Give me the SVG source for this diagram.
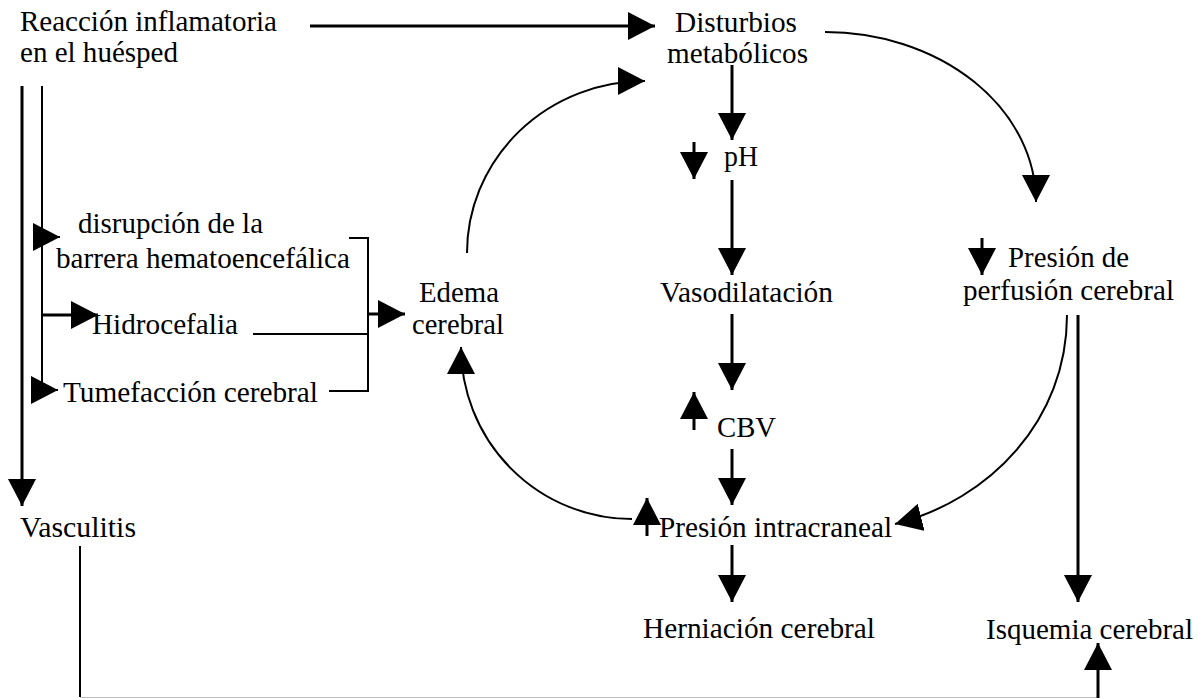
<svg xmlns="http://www.w3.org/2000/svg" width="1198" height="698" viewBox="0 0 1198 698">
<style>
text{font-family:"Liberation Serif","Times New Roman",serif;font-size:29px;fill:#000}
.thick{stroke:#000;stroke-width:3;fill:none}
.thin{stroke:#000;stroke-width:2;fill:none}
</style>
<defs>
<marker id="ah" markerUnits="userSpaceOnUse" markerWidth="28" markerHeight="28" viewBox="0 0 28 28" refX="27" refY="14" orient="auto"><path d="M0,0 L27,14 L0,28 z" fill="#000"/></marker>
</defs>
<rect width="1198" height="698" fill="#fff"/>
<g id="connectors">
<path class="thick" d="M310,26 L655,26" marker-end="url(#ah)"/>
<path class="thick" d="M732,65 L732,140" marker-end="url(#ah)"/>
<path class="thick" d="M732,180 L732,275" marker-end="url(#ah)"/>
<path class="thick" d="M732,314 L732,390" marker-end="url(#ah)"/>
<path class="thick" d="M732,449 L732,505" marker-end="url(#ah)"/>
<path class="thick" d="M732,545 L732,602" marker-end="url(#ah)"/>
<path class="thick" d="M694,142 L694,179" marker-end="url(#ah)"/>
<path class="thick" d="M694,430 L694,392" marker-end="url(#ah)"/>
<path class="thick" d="M982,238 L982,275" marker-end="url(#ah)"/>
<path class="thick" d="M647,536 L647,498" marker-end="url(#ah)"/>
<path class="thick" d="M1078,315 L1078,602" marker-end="url(#ah)"/>
<path class="thin" d="M80,546 L80,697"/>
<line x1="80" y1="697.5" x2="1098" y2="697.5" stroke="#bdbdbd" stroke-width="1"/>
<path class="thick" d="M1098,698 L1098,643" marker-end="url(#ah)"/>
<path class="thick" d="M22,86 L22,506" marker-end="url(#ah)"/>
<path class="thin" d="M42,86 L42,392"/>
<path class="thin" d="M42,237 L60,237" marker-end="url(#ah)"/>
<path class="thick" d="M42,315 L98,315" marker-end="url(#ah)"/>
<path class="thin" d="M42,390 L58,390" marker-end="url(#ah)"/>
<path class="thin" d="M349,238 H368 V391 H329"/>
<path class="thin" d="M253,334 H368"/>
<path class="thick" d="M368,314 L405,314" marker-end="url(#ah)"/>
<path class="thin" d="M825,32 A211,170 0 0 1 1036,202" marker-end="url(#ah)"/>
<path class="thin" d="M467,253 A178,172 0 0 1 645,81" marker-end="url(#ah)"/>
<path class="thin" d="M632,519 A171,172 0 0 1 461,347" marker-end="url(#ah)"/>
<path class="thin" d="M1067,315 C1067,420 990,500 895,524" marker-end="url(#ah)"/>
</g>
<g id="n-reaccion"><text x="20" y="31" textLength="257" lengthAdjust="spacingAndGlyphs">Reacción inflamatoria</text><text x="20" y="62" textLength="158" lengthAdjust="spacingAndGlyphs">en el huésped</text></g>
<g id="n-disturbios"><text x="675" y="32" textLength="122" lengthAdjust="spacingAndGlyphs">Disturbios</text><text x="667" y="63" textLength="141" lengthAdjust="spacingAndGlyphs">metabólicos</text></g>
<g id="n-ph"><text x="724" y="166" textLength="34" lengthAdjust="spacingAndGlyphs">pH</text></g>
<g id="n-vaso"><text x="660" y="302" textLength="173" lengthAdjust="spacingAndGlyphs">Vasodilatación</text></g>
<g id="n-cbv"><text x="717" y="437" textLength="59" lengthAdjust="spacingAndGlyphs">CBV</text></g>
<g id="n-pic"><text x="659" y="537" textLength="233" lengthAdjust="spacingAndGlyphs">Presión intracraneal</text></g>
<g id="n-hern"><text x="643" y="638" textLength="232" lengthAdjust="spacingAndGlyphs">Herniación cerebral</text></g>
<g id="n-isq"><text x="986" y="639" textLength="207" lengthAdjust="spacingAndGlyphs">Isquemia cerebral</text></g>
<g id="n-ppc"><text x="1008" y="267" textLength="121" lengthAdjust="spacingAndGlyphs">Presión de</text><text x="963" y="300" textLength="211" lengthAdjust="spacingAndGlyphs">perfusión cerebral</text></g>
<g id="n-edema"><text x="419" y="302" textLength="80" lengthAdjust="spacingAndGlyphs">Edema</text><text x="412" y="334" textLength="92" lengthAdjust="spacingAndGlyphs">cerebral</text></g>
<g id="n-disrup"><text x="78" y="233" textLength="185" lengthAdjust="spacingAndGlyphs">disrupción de la</text><text x="56" y="268" textLength="294" lengthAdjust="spacingAndGlyphs">barrera hematoencefálica</text></g>
<g id="n-hidro"><text x="92" y="334" textLength="146" lengthAdjust="spacingAndGlyphs">Hidrocefalia</text></g>
<g id="n-tume"><text x="63" y="402" textLength="255" lengthAdjust="spacingAndGlyphs">Tumefacción cerebral</text></g>
<g id="n-vasc"><text x="20" y="537" textLength="116" lengthAdjust="spacingAndGlyphs">Vasculitis</text></g>
</svg>
